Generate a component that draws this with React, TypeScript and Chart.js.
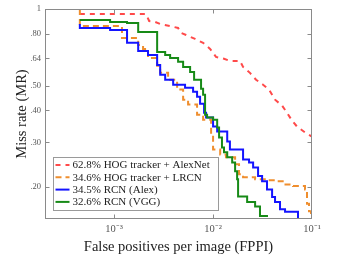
import { useEffect, useRef } from "react";
import { Chart, registerables } from "chart.js";

Chart.register(...registerables);

const seriesLabels = [
  "62.8% HOG tracker + AlexNet",
  "34.6% HOG tracker + LRCN",
  "34.5% RCN (Alex)",
  "32.6% RCN (VGG)",
];

const redFppi = [4.5e-4, 2.1e-3, 2.26e-3, 2.6e-3, 2.92e-3, 3.68e-3, 4.43e-3, 4.75e-3, 5.34e-3, 6.58e-3, 7.93e-3, 9.33e-3, 1.07e-2, 1.29e-2, 1.48e-2, 1.87e-2, 2.01e-2, 2.36e-2, 2.72e-2, 3.2e-2, 3.68e-2, 4.23e-2, 4.98e-2, 5.59e-2, 6.28e-2, 7.05e-2, 8.5e-2, 0.1];
const redMr = [0.956, 0.956, 0.898, 0.89, 0.874, 0.858, 0.843, 0.806, 0.791, 0.764, 0.737, 0.698, 0.649, 0.638, 0.626, 0.626, 0.593, 0.562, 0.528, 0.505, 0.483, 0.441, 0.418, 0.392, 0.365, 0.346, 0.328, 0.316];

const orangeFppi = [4.5e-4, 4.5e-4, 1.2e-3, 1.75e-3, 1.96e-3, 2.2e-3, 2.72e-3, 2.92e-3, 3.51e-3, 4.33e-3, 4.98e-3, 5.59e-3, 6.89e-3, 7.93e-3, 9.55e-3, 1.0e-2, 1.18e-2, 1.35e-2, 1.67e-2, 1.83e-2, 2.01e-2, 2.66e-2, 3.51e-2, 4.23e-2, 5.21e-2, 6.43e-2, 8.5e-2, 8.9e-2, 9.33e-2, 9.77e-2];
const orangeMr = [1.0, 0.858, 0.77, 0.723, 0.698, 0.643, 0.599, 0.562, 0.528, 0.483, 0.441, 0.422, 0.385, 0.368, 0.322, 0.281, 0.269, 0.262, 0.246, 0.225, 0.219, 0.215, 0.213, 0.211, 0.205, 0.202, 0.196, 0.172, 0.161, 0.14];

const blueFppi = [4.5e-4, 4.5e-4, 9.1e-4, 1.35e-3, 1.75e-3, 2.2e-3, 2.72e-3, 2.92e-3, 3.28e-3, 3.95e-3, 5.21e-3, 6.28e-3, 6.89e-3, 7.39e-3, 8.11e-3, 8.5e-3, 1.0e-2, 1.1e-2, 1.39e-2, 1.48e-2, 2.01e-2, 2.31e-2, 2.54e-2, 2.85e-2, 3.13e-2, 3.51e-2, 3.95e-2, 4.23e-2, 4.75e-2, 5.34e-2, 7.22e-2];
const blueMr = [0.874, 0.843, 0.828, 0.737, 0.685, 0.661, 0.604, 0.552, 0.528, 0.505, 0.491, 0.474, 0.453, 0.425, 0.392, 0.375, 0.346, 0.331, 0.302, 0.281, 0.257, 0.25, 0.239, 0.221, 0.211, 0.196, 0.183, 0.175, 0.164, 0.16, 0.14];

const greenFppi = [4.5e-4, 9.1e-4, 1.35e-3, 1.75e-3, 2.72e-3, 3.28e-3, 3.68e-3, 4.43e-3, 4.98e-3, 5.86e-3, 6.43e-3, 7.56e-3, 7.93e-3, 8.3e-3, 8.7e-3, 1.0e-2, 1.1e-2, 1.15e-2, 1.23e-2, 1.29e-2, 1.39e-2, 1.56e-2, 1.67e-2, 1.75e-2, 1.79e-2, 2.21e-2, 2.66e-2, 2.98e-2, 3.59e-2];
const greenMr = [0.906, 0.89, 0.882, 0.813, 0.679, 0.661, 0.643, 0.621, 0.593, 0.567, 0.528, 0.487, 0.461, 0.385, 0.375, 0.368, 0.343, 0.313, 0.286, 0.274, 0.262, 0.25, 0.231, 0.215, 0.184, 0.175, 0.168, 0.154, 0.154];

const xTickValues = [0.001, 0.01, 0.1];
const xTickLabels = ["10\u207B\u00B3", "10\u207B\u00B2", "10\u207B\u00B9"];
const yTickValues = [0.2, 0.3, 0.4, 0.5, 0.64, 0.8, 1];
const yTickLabels = [".20", ".30", ".40", ".50", ".64", ".80", "1"];

const xTitle = "False positives per image (FPPI)";
const yTitle = "Miss rate (MR)";

const colors = ["#ff4a4a", "#ef8e2e", "#1414ff", "#178a17"];
const dashes = [[5, 5], [6, 4], [], []];

const SERIF = '"Liberation Serif", "Times New Roman", serif';

export default function App() {
  const ref = useRef<HTMLCanvasElement>(null);

  useEffect(() => {
    document.body.style.margin = "0";
    const canvas = ref.current;
    if (!canvas) return;
    Chart.defaults.font.family = SERIF;

    const mk = (xs: number[], ys: number[]) => xs.map((x, i) => ({ x, y: ys[i] }));

    const framePlugin = {
      id: "frame",
      afterDatasetsDraw(chart: any) {
        const { ctx, chartArea: a, scales } = chart;
        const L = Math.round(a.left) + 0.5;
        const T = Math.round(a.top) + 0.5;
        const R = Math.round(a.right) - 0.5;
        const B = Math.round(a.bottom) - 0.5;
        ctx.save();
        ctx.strokeStyle = "#8a8a8a";
        ctx.lineWidth = 1;
        ctx.setLineDash([]);
        ctx.strokeRect(L, T, R - L, B - T);
        ctx.beginPath();
        yTickValues.forEach((v) => {
          if (v >= 1) return;
          const y = Math.round(scales.y.getPixelForValue(v)) + 0.5;
          ctx.moveTo(L, y);
          ctx.lineTo(L + 4, y);
          ctx.moveTo(R, y);
          ctx.lineTo(R - 4, y);
        });
        xTickValues.forEach((v) => {
          if (v >= 0.1) return;
          const x = Math.round(scales.x.getPixelForValue(v)) + 0.5;
          ctx.moveTo(x, B);
          ctx.lineTo(x, B - 4);
          ctx.moveTo(x, T);
          ctx.lineTo(x, T + 4);
        });
        ctx.stroke();
        ctx.restore();
      },
    };

    const legendPlugin = {
      id: "boxLegend",
      afterDraw(chart: any) {
        const { ctx, chartArea: a } = chart;
        const x0 = Math.round(a.left) + 8.5;
        const y0 = Math.round(a.bottom) - 61.5;
        const w = 165;
        const h = 53;
        ctx.save();
        ctx.fillStyle = "#ffffff";
        ctx.fillRect(x0, y0, w, h);
        ctx.strokeStyle = "#9a9a9a";
        ctx.lineWidth = 1;
        ctx.setLineDash([]);
        ctx.strokeRect(x0, y0, w, h);
        ctx.font = `11px ${SERIF}`;
        ctx.textBaseline = "middle";
        ctx.textAlign = "left";
        seriesLabels.forEach((label, i) => {
          const cy = y0 + 7.5 + i * 12.3;
          ctx.strokeStyle = colors[i];
          ctx.lineWidth = 2;
          ctx.setLineDash(dashes[i]);
          ctx.beginPath();
          ctx.moveTo(x0 + 2, cy);
          ctx.lineTo(x0 + 16, cy);
          ctx.stroke();
          ctx.setLineDash([]);
          ctx.fillStyle = "#222222";
          ctx.fillText(label, x0 + 19, cy + 0.5);
        });
        ctx.restore();
      },
    };

    const chart = new Chart(canvas, {
      type: "line",
      data: {
        datasets: [
          { label: seriesLabels[0], data: mk(redFppi, redMr), borderColor: colors[0], borderDash: dashes[0], borderWidth: 2, stepped: false, order: 3 },
          { label: seriesLabels[1], data: mk(orangeFppi, orangeMr), borderColor: colors[1], borderDash: dashes[1], borderWidth: 2, stepped: true, order: 2 },
          { label: seriesLabels[2], data: mk(blueFppi, blueMr), borderColor: colors[2], borderWidth: 2, stepped: true, order: 1 },
          { label: seriesLabels[3], data: mk(greenFppi, greenMr), borderColor: colors[3], borderWidth: 2, stepped: true, order: 0 },
        ],
      },
      options: {
        responsive: false,
        animation: false,
        layout: { padding: { left: 0, right: 33, top: 9, bottom: 0 } },
        plugins: { legend: { display: false }, tooltip: { enabled: false } },
        elements: { point: { radius: 0 }, line: { fill: false } },
        scales: {
          x: {
            type: "logarithmic",
            min: 2e-4,
            max: 0.1,
            grid: { display: false, drawTicks: false },
            border: { display: false },
            afterBuildTicks: (s: any) => {
              s.ticks = xTickValues.map((v) => ({ value: v }));
            },
            afterFit: (s: any) => {
              s.height = 40;
            },
            ticks: {
              autoSkip: false,
              maxRotation: 0,
              padding: 4,
              color: "#555555",
              font: { size: 10.5, family: SERIF },
              callback: (v: any) => {
                const i = xTickValues.findIndex((t) => Math.abs(t - Number(v)) < 1e-9);
                return i >= 0 ? xTickLabels[i] : "";
              },
            },
            title: {
              display: true,
              text: xTitle,
              color: "#222222",
              font: { size: 14.5, family: SERIF },
              padding: { top: 0, bottom: 3 },
            },
          },
          y: {
            type: "logarithmic",
            min: 0.15,
            max: 1,
            grid: { display: false, drawTicks: false },
            border: { display: false },
            afterBuildTicks: (s: any) => {
              s.ticks = yTickValues.map((v) => ({ value: v }));
            },
            afterFit: (s: any) => {
              s.width = 45;
            },
            ticks: {
              autoSkip: false,
              padding: 4,
              color: "#555555",
              font: { size: 8.5, family: SERIF },
              callback: (v: any) => {
                const i = yTickValues.findIndex((t) => Math.abs(t - Number(v)) < 1e-9);
                return i >= 0 ? yTickLabels[i] : "";
              },
            },
            title: {
              display: true,
              text: yTitle,
              color: "#222222",
              font: { size: 14.5, family: SERIF },
              padding: { top: 13, bottom: 0 },
            },
          },
        },
      },
      plugins: [framePlugin, legendPlugin],
    } as any);

    return () => chart.destroy();
  }, []);

  return (
    <div style={{ width: 345, height: 259 }}>
      <canvas ref={ref} width={345} height={259} style={{ display: "block", width: 345, height: 259 }} />
    </div>
  );
}
